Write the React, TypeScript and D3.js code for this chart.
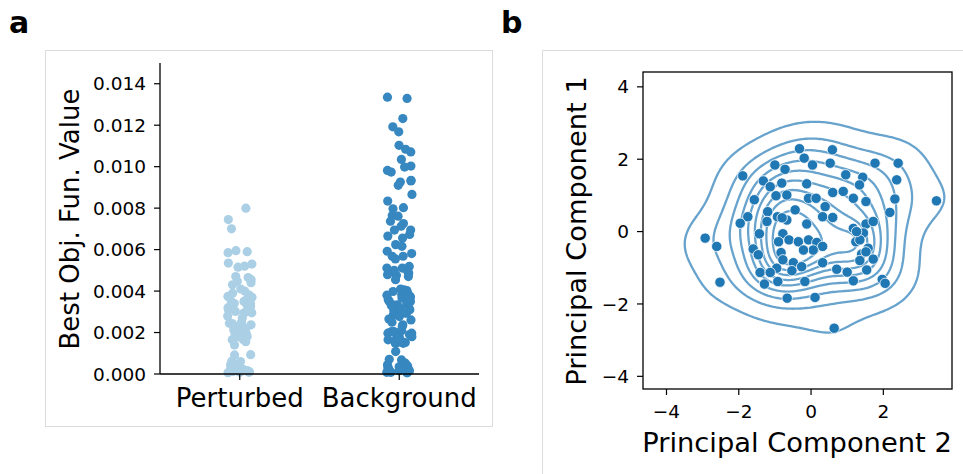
import React, { useMemo } from "react";
import * as d3 from "d3";

// ---------------- Data ----------------
const categories = ["Perturbed", "Background"];

const perturbedValues = [
  0.0080, 0.00745, 0.0070, 0.0059, 0.00585, 0.00595, 0.0052, 0.0053, 0.00535, 0.00515,
  0.00465, 0.00447, 0.0047, 0.00455, 0.0043, 0.0040, 0.0039, 0.00375, 0.0038, 0.00374,
  0.00334, 0.0035, 0.0034, 0.00339, 0.00326, 0.00302, 0.00294, 0.0031, 0.00295, 0.0027,
  0.00237, 0.00232, 0.00245, 0.00242, 0.00246, 0.00213, 0.00205, 0.00214, 0.0019, 0.00181,
  0.00165, 0.0018, 0.00156, 0.00166, 0.0014, 0.00092, 0.00093, 0.0006, 0.00061, 0.0005,
  0.00044, 0.00027, 0.00023, 0.00028, 0.00035, 0.00019, 0.00011, 0.00008, 0.00012, 0.00016,
  0.00008, 0.00006, 0.0036, 0.0033, 0.0032, 0.0037, 0.0028, 0.0025, 0.0022, 0.0020,
  0.0017, 0.0041, 0.0044, 0.0035, 0.0030,
];

const backgroundValues = [
  0.01335, 0.01329, 0.01232, 0.01192, 0.01168, 0.01103, 0.01084, 0.01071, 0.01035, 0.01003,
  0.00998, 0.00982, 0.00974, 0.00931, 0.00934, 0.00926, 0.0091, 0.00866, 0.00834, 0.00797,
  0.00802, 0.00765, 0.00761, 0.00737, 0.00726, 0.00713, 0.00694, 0.00694, 0.00673, 0.00656,
  0.00665, 0.00624, 0.00616, 0.00592, 0.00568, 0.00581, 0.00568, 0.00555, 0.00519, 0.00511,
  0.00511, 0.00495, 0.00487, 0.00479, 0.00476, 0.00455, 0.00402, 0.00406, 0.00398, 0.0041,
  0.00382, 0.00374, 0.00366, 0.0035, 0.00358, 0.0035, 0.00334, 0.00326, 0.00334, 0.00318,
  0.00306, 0.00294, 0.00297, 0.00294, 0.00285, 0.00277, 0.00265, 0.00261, 0.00237, 0.00229,
  0.002, 0.00205, 0.00197, 0.00205, 0.00197, 0.00173, 0.00165, 0.00173, 0.00165, 0.00177,
  0.00148, 0.00148, 0.00152, 0.00148, 0.00108, 0.00071, 0.00068, 0.00052, 0.00044, 0.00035,
  0.00039, 0.00032, 0.00023, 0.00019, 0.00016, 0.00023, 0.00016, 0.00008, 0.00006, 0.00008,
  0.00006, 0.0036, 0.0034, 0.0038, 0.0032, 0.0031, 0.0037, 0.0018, 0.0019, 0.0016,
  0.0017, 0.0021, 0.0039, 0.0033, 0.0030, 0.0025, 0.0047, 0.0050, 0.0002, 0.0001,
];

const yTicksA = [0, 0.002, 0.004, 0.006, 0.008, 0.01, 0.012, 0.014];

// Principal component scores (x = PC2, y = PC1)
const pc2 = [
  -0.32, 0.59, -0.19, 0.04, 0.53, -1.0, -0.72, 1.77, 2.41, -1.89,
  -1.32, -0.81, -0.12, 0.96, 1.43, 1.34, 2.37, -1.13, -0.97, -0.67,
  -1.57, 0.6, 0.89, 1.17, 1.52, 2.32, 3.47, -0.07, 0.14, 0.39,
  -0.44, -1.2, 2.18, -1.75, -0.93, -0.67, 0.32, 0.6, -1.96, -1.22,
  -0.12, 1.52, 1.72, 1.17, -1.43, -0.78, 1.45, -2.93, -2.61, -0.90,
  -0.61, -0.35, -0.07, 0.16, 0.32, 0.06, -0.21, 1.24, -1.60, 1.58,
  -0.83, 1.40, 1.52, -1.46, 1.72, 1.35, 0.32, -0.49, -0.26, -0.95,
  0.71, -0.53, -1.41, -1.13, 1.0, 1.54, -2.52, -1.29, -0.92, -0.17,
  1.17, 1.97, 2.05, -0.66, 0.11, 0.64, -0.80, -0.78, 1.35, 1.26,
];
const pc1 = [
  2.29, 2.26, 2.03, 1.84, 1.89, 1.84, 1.72, 1.89, 1.89, 1.54,
  1.40, 1.34, 1.32, 1.57, 1.50, 1.29, 1.43, 1.24, 0.99, 1.01,
  0.88, 1.08, 1.11, 0.92, 0.83, 0.90, 0.85, 0.92, 0.92, 0.69,
  0.60, 0.55, 0.53, 0.41, 0.41, 0.32, 0.41, 0.39, 0.23, 0.28,
  0.21, 0.21, 0.28, 0.09, -0.06, -0.06, -0.04, -0.18, -0.41, -0.28,
  -0.23, -0.28, -0.23, -0.30, -0.41, -0.51, -0.51, -0.28, -0.48, -0.46,
  -0.58, -0.62, -0.56, -0.64, -0.76, -0.80, -0.86, -0.86, -0.97, -1.01,
  -1.04, -1.08, -1.13, -1.13, -1.12, -1.06, -1.40, -1.45, -1.38, -1.38,
  -1.36, -1.32, -1.43, -1.84, -1.82, -2.67, 0.38, -0.78, -0.23, 0.0,
];

const xTicksB = [-4, -2, 0, 2];
const yTicksB = [-4, -2, 0, 2, 4];

// ---------------- Styles ----------------
const FONT = "DejaVu Sans, sans-serif";
const colorsA = ["#abd0e6", "#3787c0"];
const colorB = "#1f77b4";
const BW_ADJUST = 1.15;

// ---------------- KDE (Gaussian, Scott bandwidth, iso-proportion levels) ----------------
function kdeContours(xs: number[], ys: number[]) {
  const n = xs.length;
  const mx = d3.mean(xs)!;
  const my = d3.mean(ys)!;
  let sxx = 0, syy = 0, sxy = 0;
  for (let i = 0; i < n; i++) {
    const dx = xs[i] - mx, dy = ys[i] - my;
    sxx += dx * dx; syy += dy * dy; sxy += dx * dy;
  }
  sxx /= n - 1; syy /= n - 1; sxy /= n - 1;
  const f = Math.pow(n, -1 / 6) * BW_ADJUST;
  const hxx = sxx * f * f, hyy = syy * f * f, hxy = sxy * f * f;
  const det = hxx * hyy - hxy * hxy;
  const ixx = hyy / det, iyy = hxx / det, ixy = -hxy / det;
  const norm = 1 / (n * 2 * Math.PI * Math.sqrt(det));
  const bwx = Math.sqrt(hxx), bwy = Math.sqrt(hyy);
  const x0 = d3.min(xs)! - 3 * bwx, x1 = d3.max(xs)! + 3 * bwx;
  const y0 = d3.min(ys)! - 3 * bwy, y1 = d3.max(ys)! + 3 * bwy;
  const G = 200;
  const stx = (x1 - x0) / (G - 1), sty = (y1 - y0) / (G - 1);
  const values: number[] = new Array(G * G);
  for (let j = 0; j < G; j++) {
    const gy = y0 + j * sty;
    for (let i = 0; i < G; i++) {
      const gx = x0 + i * stx;
      let s = 0;
      for (let k = 0; k < n; k++) {
        const dx = gx - xs[k], dy = gy - ys[k];
        s += Math.exp(-0.5 * (ixx * dx * dx + 2 * ixy * dx * dy + iyy * dy * dy));
      }
      values[j * G + i] = s * norm;
    }
  }
  const sorted = values.slice().sort((a, b) => b - a);
  const total = d3.sum(sorted);
  const cum: number[] = [];
  let acc = 0;
  for (const v of sorted) { acc += v; cum.push(acc / total); }
  const props = d3.range(10).map((i) => 0.05 + (i * (1 - 0.05)) / 9);
  const maxV = sorted[0];
  const levels: number[] = [];
  for (const p of props) {
    const target = 1 - p;
    let idx = d3.bisectLeft(cum, target);
    idx = Math.min(Math.max(idx, 0), sorted.length - 1);
    const lv = sorted[idx];
    if (lv < maxV) levels.push(lv);
  }
  const contours = d3.contours().size([G, G]).thresholds(levels)(values);
  return { contours, x0, y0, stx, sty };
}

// ---------------- Component ----------------
export default function App() {
  // Panel a scales
  const xA = d3.scaleLinear().domain([-0.5, 1.5]).range([160, 479]);
  const yA = d3.scaleLinear().domain([0, 0.015]).range([374, 63]);

  // Panel b scales
  const xB = d3.scaleLinear().domain([-4.65, 3.9]).range([643, 952]);
  const yB = d3.scaleLinear().domain([-4.35, 4.41]).range([389, 72]);

  const stripPoints = useMemo(() => {
    const lcg = d3.randomLcg(0.4242);
    const jit = d3.randomUniform.source(lcg)(-0.08, 0.08);
    const pts: { cat: number; v: number; j: number }[] = [];
    [perturbedValues, backgroundValues].forEach((arr, ci) => {
      arr.forEach((v) => pts.push({ cat: ci, v, j: jit() }));
    });
    return pts;
  }, []);

  const kde = useMemo(() => kdeContours(pc2, pc1), []);

  const contourPaths = kde.contours.map((c) => {
    let d = "";
    for (const poly of c.coordinates) {
      for (const ring of poly) {
        ring.forEach((pt, i) => {
          const dx = kde.x0 + (pt[0] - 0.5) * kde.stx;
          const dy = kde.y0 + (pt[1] - 0.5) * kde.sty;
          d += (i === 0 ? "M" : "L") + xB(dx).toFixed(2) + "," + yB(dy).toFixed(2);
        });
        d += "Z";
      }
    }
    return d;
  });

  const fmtMinus = (v: number) => (v < 0 ? "\u2212" + Math.abs(v) : String(v));

  return (
    <svg
      width={963}
      height={474}
      style={{ position: "absolute", left: 0, top: 0, background: "#fff" }}
      fontFamily={FONT}
    >
      <rect x={0} y={0} width={963} height={474} fill="#fff" />

      {/* panel frames */}
      <rect x={45.5} y={50.5} width={447} height={376} fill="none" stroke="#dcdcdc" strokeWidth={1} />
      <line x1={542.5} y1={50.5} x2={963} y2={50.5} stroke="#dcdcdc" strokeWidth={1} />
      <line x1={542.5} y1={50.5} x2={542.5} y2={474} stroke="#dcdcdc" strokeWidth={1} />

      {/* panel labels */}
      <text x={9} y={33} fontSize={30} fontWeight="bold" fill="#000">a</text>
      <text x={501} y={33} fontSize={30} fontWeight="bold" fill="#000">b</text>

      {/* ---------- Panel a ---------- */}
      <g>
        {stripPoints.map((p, i) => (
          <circle
            key={i}
            cx={xA(p.cat + p.j)}
            cy={yA(p.v)}
            r={4.6}
            fill={colorsA[p.cat]}
          />
        ))}
        <line x1={160} y1={63} x2={160} y2={374} stroke="#000" strokeWidth={1.3} />
        <line x1={160} y1={374} x2={479} y2={374} stroke="#000" strokeWidth={1.3} />
        {yTicksA.map((t) => (
          <g key={t}>
            <line x1={154} x2={160} y1={yA(t)} y2={yA(t)} stroke="#000" strokeWidth={1.2} />
            <text x={146} y={yA(t)} dy="0.36em" textAnchor="end" fontSize={18.5} fill="#000">
              {t.toFixed(3)}
            </text>
          </g>
        ))}
        {categories.map((c, i) => (
          <g key={c}>
            <line x1={xA(i)} x2={xA(i)} y1={374} y2={380} stroke="#000" strokeWidth={1.2} />
            <text x={xA(i)} y={407} textAnchor="middle" fontSize={26} fill="#000">
              {c}
            </text>
          </g>
        ))}
        <text
          transform={`translate(79,219) rotate(-90)`}
          textAnchor="middle"
          fontSize={26}
          fill="#000"
        >
          Best Obj. Fun. Value
        </text>
      </g>

      {/* ---------- Panel b ---------- */}
      <g>
        <defs>
          <clipPath id="clipB">
            <rect x={643} y={72} width={309} height={317} />
          </clipPath>
        </defs>
        <g clipPath="url(#clipB)">
          {contourPaths.map((d, i) => (
            <path key={i} d={d} fill="none" stroke={colorB} strokeOpacity={0.68} strokeWidth={2.3} />
          ))}
          {pc2.map((x, i) => (
            <circle
              key={i}
              cx={xB(x)}
              cy={yB(pc1[i])}
              r={5.2}
              fill={colorB}
              stroke="#fff"
              strokeWidth={0.8}
            />
          ))}
        </g>
        <rect x={643} y={72} width={309} height={317} fill="none" stroke="#000" strokeWidth={1.3} />
        {xTicksB.map((t) => (
          <g key={t}>
            <line x1={xB(t)} x2={xB(t)} y1={389} y2={395} stroke="#000" strokeWidth={1.2} />
            <text x={xB(t)} y={418} textAnchor="middle" fontSize={18.5} fill="#000">
              {fmtMinus(t)}
            </text>
          </g>
        ))}
        {yTicksB.map((t) => (
          <g key={t}>
            <line x1={637} x2={643} y1={yB(t)} y2={yB(t)} stroke="#000" strokeWidth={1.2} />
            <text x={629} y={yB(t)} dy="0.36em" textAnchor="end" fontSize={18.5} fill="#000">
              {fmtMinus(t)}
            </text>
          </g>
        ))}
        <text x={797} y={452} textAnchor="middle" fontSize={27.3} fill="#000">
          Principal Component 2
        </text>
        <text
          transform={`translate(586,231) rotate(-90)`}
          textAnchor="middle"
          fontSize={27.3}
          fill="#000"
        >
          Principal Component 1
        </text>
      </g>
    </svg>
  );
}
